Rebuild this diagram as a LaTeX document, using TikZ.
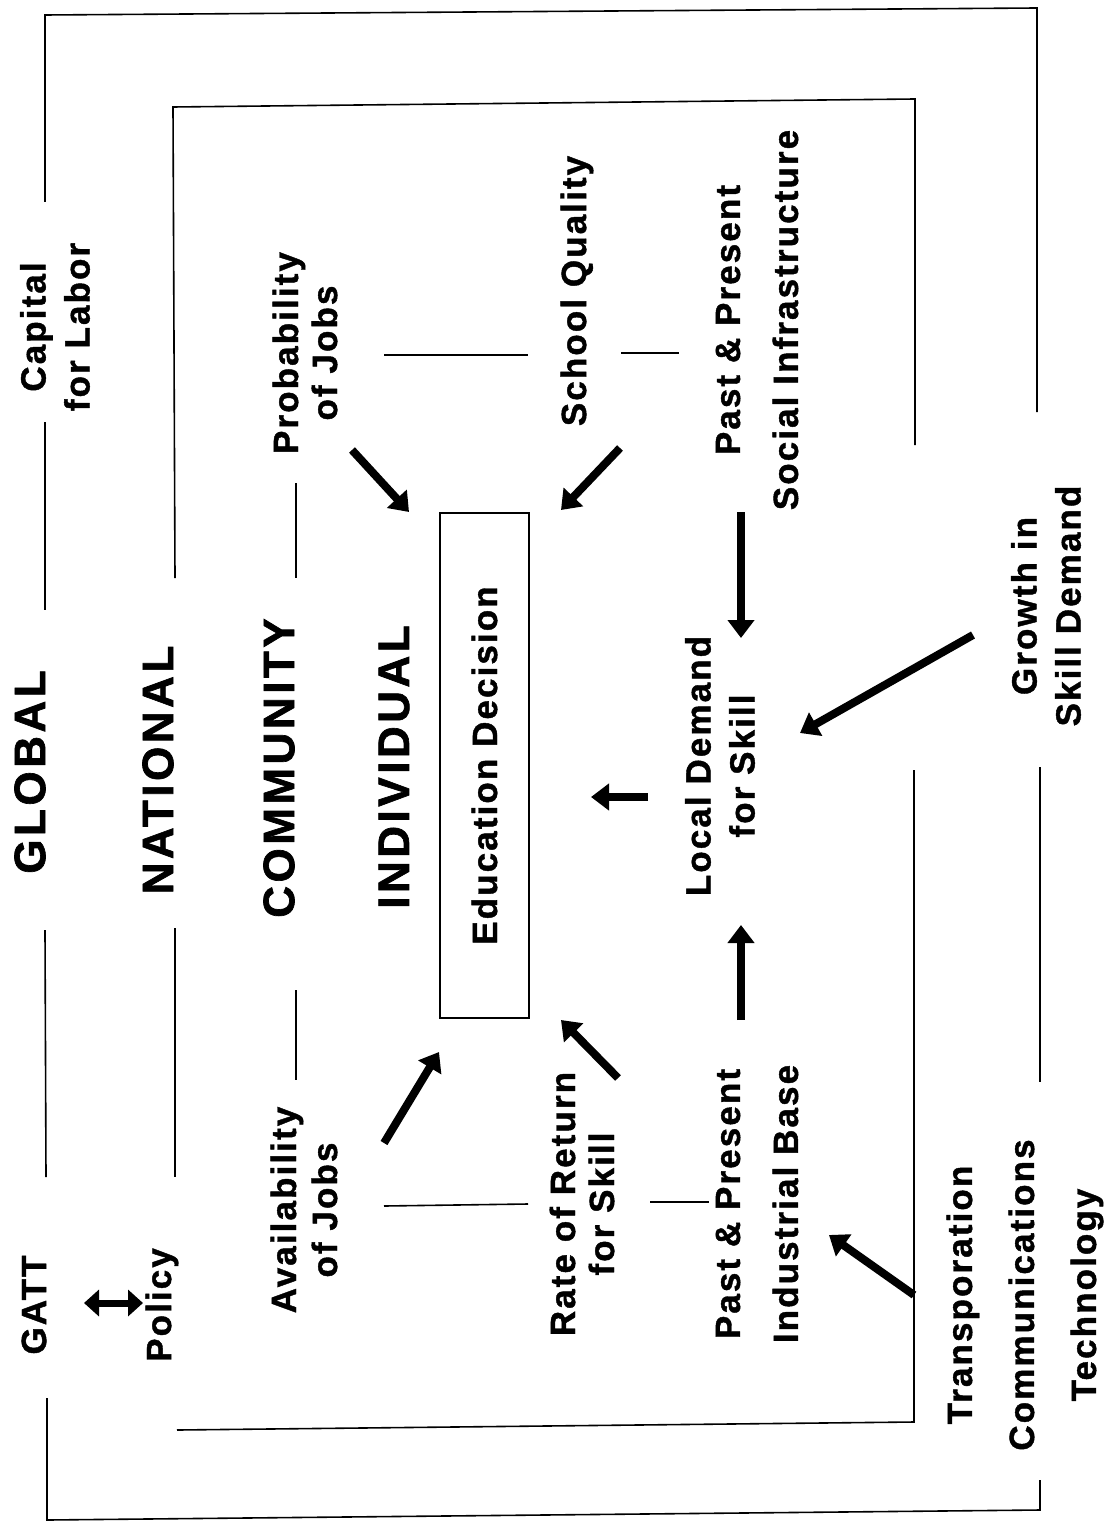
\documentclass[tikz,border=0pt]{standalone}
\usepackage{fontspec}
\setmainfont{Liberation Sans}
\newfontfamily\levelfont{Liberation Sans}[LetterSpace=8,BoldFeatures={FakeBold=1.5}]
\newfontfamily\labelfont{Liberation Sans}[LetterSpace=6,BoldFeatures={FakeBold=1.2}]
\usetikzlibrary{arrows.meta}

\begin{document}
\begin{tikzpicture}[x=1pt,y=-1pt,
  every node/.style={inner sep=0pt},
  lvl/.style={rotate=90,font=\levelfont\bfseries\fontsize{44}{50}\selectfont},
  lab/.style={rotate=90,align=center,font=\labelfont\bfseries\fontsize{35}{44}\selectfont},
  frame/.style={line width=1.6pt},
  arr/.style={line width=8pt,-{Triangle[length=18pt,width=26pt]}},
  dbl/.style={line width=7pt,{Triangle[length=15pt,width=26pt]}-{Triangle[length=15pt,width=26pt]}}]
  \useasboundingbox (0,0) rectangle (1109,1522);

  % levels
  \node[lvl] (global) at (30,772) {GLOBAL};
  \node[lvl] (national) at (158,770) {NATIONAL};
  \node[lvl] (community) at (279,768) {COMMUNITY};
  \node[lvl] (individual) at (394,767) {INDIVIDUAL};

  % factors
  \node[lab] (capital) at (55,327) {Capital\\for Labor};
  \node[lab] (gatt) at (34,1305) {GATT};
  \node[lab] (policy) at (162,1305) {Policy};
  \node[lab] (prob) at (305,353) {Probability\\[-5pt]of Jobs};
  \node[lab] (school) at (577,291) {School Quality};
  \node[lab] (social) at (757,320) {Past \& Present\\[14pt]Social Infrastructure};
  \node[lab] (avail) at (304,1210) {Availability\\[-3pt]of Jobs};
  \node[lab] (rate) at (582,1204) {Rate of Return\\[-5pt]for Skill};
  \node[lab] (indus) at (757,1204) {Past \& Present\\[14pt]Industrial Base};
  \node[lab] (local) at (720,766) {Local Demand\\for Skill};
  \node[lab] (growth) at (1046,606) {Growth in\\Skill Demand};
  \node[lab] (transp) at (1025,1295) {Transporation\\[18pt]Communications\\[18pt]Technology};
  \node[lab,draw,line width=1.6pt,minimum width=505pt,minimum height=89pt] (edbox) at (484.5,765.5) {Education Decision};

  % frames
  \draw[frame] (45,202) -- (45,15) -- (1037,8) -- (1037,412);
  \draw[frame] (45,422) -- (45,610);
  \draw[frame] (45,930) -- (46,1177);
  \draw[frame] (1040,767) -- (1040,1082);
  \draw[frame] (47,1398) -- (47,1520) -- (1040,1510) -- (1040,1480);
  \draw[frame] (175,578) -- (173,107) -- (915,99) -- (915,445);
  \draw[frame] (175,928) -- (175,1177);
  \draw[frame] (914,770) -- (914,1422) -- (177,1430);
  \draw[frame] (296,483) -- (296,578);
  \draw[frame] (296,990) -- (296,1080);
  \draw[frame] (384,355) -- (528,355);
  \draw[frame] (621,353) -- (679,353);
  \draw[frame] (384,1206) -- (528,1204);
  \draw[frame] (650,1202) -- (709,1202);

  % arrows
  \draw[dbl] ([shift={(50,-2)}]gatt.center) -- ([shift={(-19,-2)}]policy.center);
  \draw[arr] ([shift={(47,97)}]prob.center) -- ([shift={(-75.5,-253.5)}]edbox.center);
  \draw[arr] ([shift={(43,157)}]school.center) -- ([shift={(76.5,-255.5)}]edbox.center);
  \draw[arr] ([shift={(80,-67)}]avail.center) -- ([shift={(-45.5,286.5)}]edbox.center);
  \draw[arr] ([shift={(36,-126)}]rate.center) -- ([shift={(76.5,254.5)}]edbox.center);
  \draw[arr] ([shift={(-16,192)}]social.center) -- ([shift={(21,-128)}]local.center);
  \draw[arr] ([shift={(-72,31)}]local.center) -- ([shift={(106.5,31.5)}]edbox.center);
  \draw[arr] ([shift={(-16,-184)}]indus.center) -- ([shift={(21,159)}]local.center);
  \draw[arr] ([shift={(-73,29)}]growth.center) -- ([shift={(80,-33)}]local.center);
  \draw[arr] ([shift={(-111,0)}]transp.center) -- ([shift={(72,31)}]indus.center);
\end{tikzpicture}
\end{document}
